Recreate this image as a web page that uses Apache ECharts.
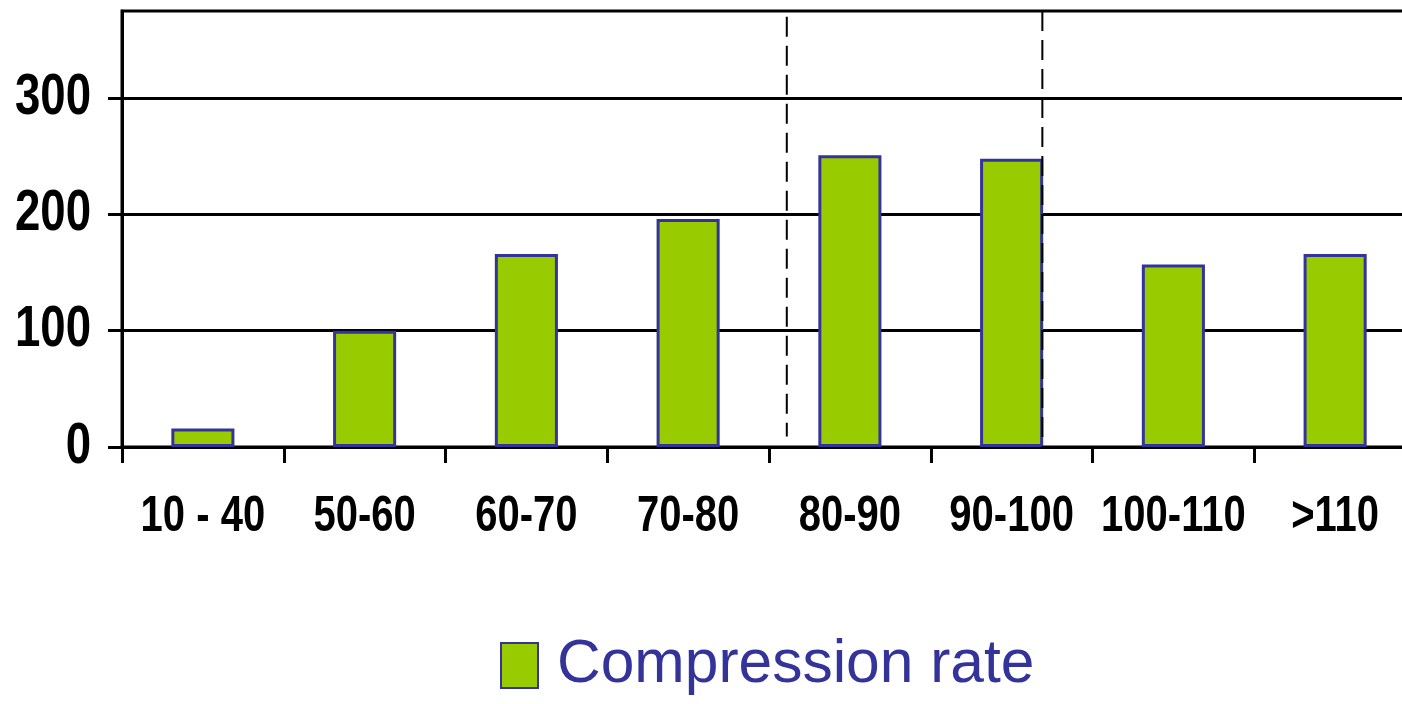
<!DOCTYPE html>
<html>
<head>
<meta charset="utf-8">
<title>Compression rate</title>
<script src="https://cdn.jsdelivr.net/npm/echarts@6/dist/echarts.min.js"></script>
<style>
  html, body { margin: 0; padding: 0; background: #fff; }
  #chart { width: 1402px; height: 704px; }
</style>
</head>
<body>
<div id="chart"></div>
<script>
// Category bins and counts for the compression-rate histogram
const categories = ['10 - 40', '50-60', '60-70', '70-80', '80-90', '90-100', '100-110', '>110'];
const compressionRate = [16, 100, 166, 196, 251, 248, 157, 166];
const yTicks = [0, 100, 200, 300];
const yMax = 375;

// Two dashed reference lines, end points as [x in category-index units, value], drawn top to bottom
const dividerA = [[3.61, 370], [3.61, 9]];
const dividerB = [[5.19, 375], [5.19, 0]];

const sans = "'Liberation Sans', Arial, sans-serif";
const chart = echarts.init(document.getElementById('chart'));

chart.setOption({
  animation: false,
  backgroundColor: '#fff',
  grid: {
    left: 122, top: 11, right: -14, bottom: 257,
    outerBoundsMode: 'none', containLabel: false,
    show: true, borderColor: '#000', borderWidth: 3, backgroundColor: 'transparent'
  },
  legend: {
    data: ['Compression rate'],
    left: 500, top: 635, padding: 0,
    icon: 'rect',
    itemWidth: 37, itemHeight: 45,
    textStyle: { color: '#333399', fontSize: 60.5, fontFamily: sans, padding: [0, 0, 0, 14] }
  },
  xAxis: [{
    type: 'category',
    data: categories,
    boundaryGap: true,
    axisLine: { show: true, onZero: false, lineStyle: { color: '#000', width: 3 } },
    axisTick: { show: true, alignWithLabel: false, length: 16, lineStyle: { color: '#000', width: 3 } },
    axisLabel: { show: false }
  }, {
    type: 'value', min: -0.5, max: 7.5, show: false
  }],
  yAxis: {
    type: 'value',
    min: 0, max: yMax, interval: 100,
    axisLine: { show: true, onZero: false, lineStyle: { color: '#000', width: 3 } },
    axisTick: { show: true, inside: false, length: 14, customValues: yTicks, lineStyle: { color: '#000', width: 3 } },
    axisLabel: { show: false },
    splitLine: { show: true, lineStyle: { color: '#000', width: 3 } }
  },
  series: [{
    name: 'Compression rate',
    type: 'bar',
    data: compressionRate,
    barWidth: '39%',
    itemStyle: { color: '#99CC00', borderColor: '#333399', borderWidth: 3 }
  }, {
    name: 'dividerA', type: 'line', xAxisIndex: 1, data: dividerA,
    symbol: 'none', silent: true,
    lineStyle: { color: '#000', width: 2, type: [20, 9] }
  }, {
    name: 'dividerB', type: 'line', xAxisIndex: 1, data: dividerB,
    symbol: 'none', silent: true,
    lineStyle: { color: '#000', width: 2, type: [20, 9] }
  }]
});

// Axis labels in a condensed bold face, placed from the axes' own scales
const baseY = chart.convertToPixel({ yAxisIndex: 0 }, 0);
const leftX = chart.convertToPixel({ xAxisIndex: 1 }, -0.5);
const labelFont = (size) => 'bold ' + size + 'px ' + sans;

const xLabels = categories.map((name, i) => ({
  type: 'text',
  x: chart.convertToPixel({ xAxisIndex: 0 }, i),
  y: baseY + 70,
  scaleX: 0.8,
  silent: true,
  style: { text: name, fill: '#000', font: labelFont(50), align: 'center', verticalAlign: 'middle' }
}));

const yLabels = yTicks.map((v) => ({
  type: 'text',
  x: leftX - 31,
  y: chart.convertToPixel({ yAxisIndex: 0 }, v),
  scaleX: 0.8,
  silent: true,
  style: { text: String(v), fill: '#000', font: labelFont(57), align: 'right', verticalAlign: 'middle' }
}));

chart.setOption({ graphic: xLabels.concat(yLabels) });
</script>
</body>
</html>
